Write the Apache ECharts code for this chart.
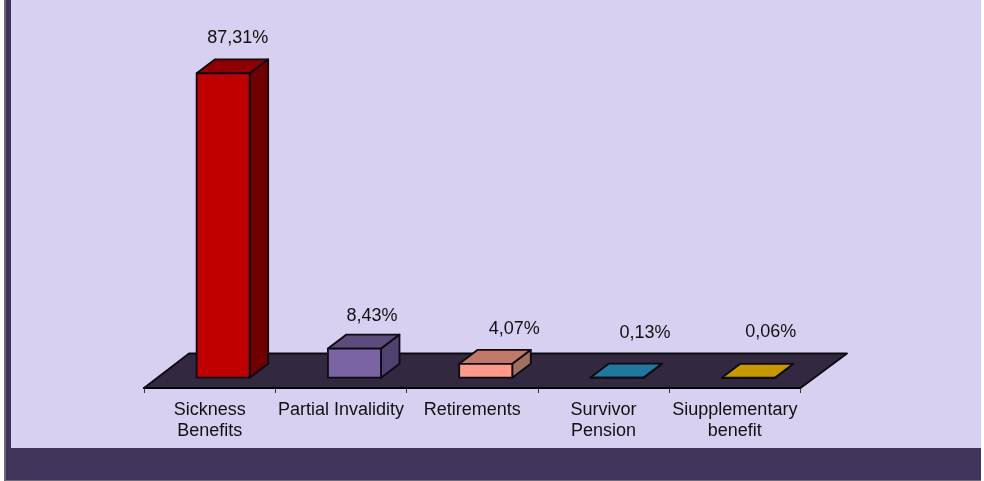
<!DOCTYPE html>
<html><head><meta charset="utf-8">
<style>html,body{margin:0;padding:0;background:#fff}#c{width:984px;height:481px}</style>
<script src="https://cdn.jsdelivr.net/npm/echarts@6/dist/echarts.min.js"></script>
</head><body><div id="c"></div>
<script>
const categories = ['Sickness\nBenefits','Partial Invalidity','Retirements','Survivor\nPension','Siupplementary\nbenefit'];
const values = [87.31, 8.43, 4.07, 0.13, 0.06];
const frontColors = ['#C00000','#7B64A4','#FF9A8A','#20789F','#C89800'];
const topColors = ['#900000','#5C4B7B','#C07868','#20789F','#C89800'];
const sideColors = ['#700000','#4F4270','#A06F60','#185A78','#967200'];
const labelShiftX = [15,18,29,28.5,23];
const labelShiftY = [21,18.5,21,30.5,32];

const DX = 18.5, DY = 14, INK = '#0c0a12';
const poly = (points, fill) => ({type:'polygon', shape:{points}, style:{fill, stroke:INK, lineWidth:1.8, lineJoin:'round'}});

const chart = echarts.init(document.getElementById('c'), null, {renderer:'canvas'});
chart.setOption({
  animation:false,
  backgroundColor:'#ffffff',
  graphic:[
    {type:'rect', z:-3, silent:true, shape:{x:4,y:0,width:977,height:481}, style:{fill:'#6f6a78'}},
    {type:'rect', z:-2, silent:true, shape:{x:6,y:0,width:975,height:480}, style:{fill:'#40345A'}},
    {type:'rect', z:-1, silent:true, shape:{x:11,y:0,width:970,height:448}, style:{fill:'#D7D0F0'}}
  ],
  grid:{left:144,right:183.5,bottom:103,top:29,containLabel:false},
  xAxis:{type:'category',data:categories,offset:10,z:5,
    axisLine:{show:true,onZero:false,lineStyle:{color:'#000',width:2}},
    axisTick:{show:true,alignWithLabel:false,length:5,lineStyle:{color:'#333',width:1}},
    axisLabel:{color:'#111',fontFamily:'Liberation Sans',fontSize:18,lineHeight:21,margin:12,interval:0,hideOverlap:false},
    splitLine:{show:false}},
  yAxis:{type:'value',min:0,max:100,show:false,splitLine:{show:false}},
  series:[
    {type:'custom',z:2,clip:false,silent:true,data:[0],encode:{x:0,y:0},
     renderItem(params,api){
       const band = api.size([1,0])[0];
       const a = api.coord([0,0]), b = api.coord([categories.length-1,0]);
       const l = a[0]-band/2, r = b[0]+band/2, y = a[1];
       return poly([[l,y+10],[l+45,y-24.5],[r+46.5,y-24.5],[r,y+10]],'#32283F');
     }},
    {type:'custom',z:3,clip:false,silent:true,
     data:values.map((v,i)=>[i,v]),encode:{x:0,y:1},
     renderItem(params,api){
       const i = api.value(0), v = api.value(1);
       const base = api.coord([i,0]), top = api.coord([i,v]);
       const band = api.size([1,0])[0], w = band*0.404;
       const x0 = base[0]-w/2+13.5, x1 = x0+w, yb = base[1]-0.3, yt = top[1];
       const children = [
         poly([[x1,yb],[x1+DX,yb-DY],[x1+DX,yt-DY],[x1,yt]],sideColors[i]),
         poly([[x0,yt],[x0+DX,yt-DY],[x1+DX,yt-DY],[x1,yt]],topColors[i]),
         poly([[x0,yb],[x1,yb],[x1,yt],[x0,yt]],frontColors[i]),
         {type:'text',style:{x:x0+w/2+labelShiftX[i]-0.5,y:yt-DY-labelShiftY[i],
           text:v.toFixed(2).replace('.',',')+'%',
           fill:'#111',font:'18px "Liberation Sans"',align:'center',verticalAlign:'middle'}}
       ];
       return {type:'group',children};
     }}
  ]
});
</script></body></html>
